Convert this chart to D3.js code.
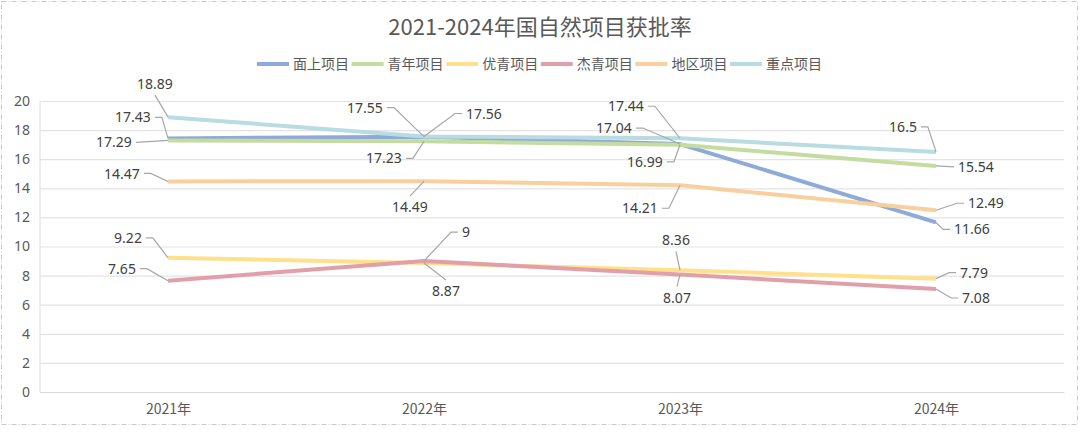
<!DOCTYPE html>
<html>
<head>
<meta charset="utf-8">
<script src="https://cdn.jsdelivr.net/npm/d3@7"></script>
<style>
    body { margin: 0; background: #fff; }
    svg { display: block; font-family: "Noto Sans CJK SC", "Noto Sans", sans-serif; }
</style>
</head>
<body>
<div id="chart"></div>
<script>
/** Chart data. */
const YEARS = ["2021年", "2022年", "2023年", "2024年"];
const SERIES_NAMES = ["面上项目", "青年项目", "优青项目", "杰青项目", "地区项目", "重点项目"];
const MIANSHANG = [17.43, 17.55, 17.04, 11.66];
const QINGNIAN = [17.29, 17.23, 16.99, 15.54];
const YOUQING = [9.22, 8.87, 8.36, 7.79];
const JIEQING = [7.65, 9, 8.07, 7.08];
const DIQU = [14.47, 14.49, 14.21, 12.49];
const ZHONGDIAN = [18.89, 17.56, 17.44, 16.5];
const Y_TICKS = [0, 2, 4, 6, 8, 10, 12, 14, 16, 18, 20];

/** Layout. */
const WIDTH = 1080;
const HEIGHT = 436;
const MARGIN = {left: 40, right: 16, top: 101, bottom: 44};
const COLORS = ["#8eaad9", "#c5dca0", "#ffe08b", "#e19faa", "#f9cf9e", "#b8dce1"];

// Label offsets (dx, dy) from each point, per series and year.
const LABEL_OFFSETS = [
    [[-35, -21], [-59, -29], [-66, -16], [36, 7]],
    [[-54, 2], [-40, 17], [-35, 17], [40, 1]],
    [[-40, -20], [22, 28], [-4, -30], [38, -6]],
    [[-46, -12], [42, -29], [-3, 23], [40, 9]],
    [[-46, -8], [-14, 26], [-40, 23], [50, -7]],
    [[-13, -33], [60, -23], [-54, -32], [-33, -25]],
];

const seriesValues = [MIANSHANG, QINGNIAN, YOUQING, JIEQING, DIQU, ZHONGDIAN];
const series = SERIES_NAMES.map((name, i) => ({
    name,
    color: COLORS[i],
    values: seriesValues[i].map((v, j) => ({year: YEARS[j], value: v, offset: LABEL_OFFSETS[i][j]})),
}));

const x = d3.scalePoint()
    .domain(YEARS)
    .range([MARGIN.left, WIDTH - MARGIN.right])
    .padding(0.5);
const y = d3.scaleLinear()
    .domain([0, 20])
    .range([HEIGHT - MARGIN.bottom, MARGIN.top]);

const svg = d3.select("#chart").append("svg")
    .attr("width", WIDTH)
    .attr("height", HEIGHT);

// Dashed frame.
svg.append("rect")
    .attr("x", 1.5).attr("y", 1.5)
    .attr("width", 1076).attr("height", 423)
    .attr("fill", "#fff")
    .attr("stroke", "#c8c8c8")
    .attr("stroke-dasharray", "5,2,1,2");

// Title.
svg.append("text")
    .attr("x", WIDTH / 2)
    .attr("y", 35)
    .attr("text-anchor", "middle")
    .attr("fill", "#595959")
    .attr("font-size", 22)
    .text("2021-2024年国自然项目获批率");

// Legend.
const legend = svg.append("g")
    .selectAll("g")
    .data(series)
    .join("g")
    .attr("transform", (d, i) => `translate(${257 + i * 94.6}, 64)`);
legend.append("line")
    .attr("x1", 0).attr("x2", 32)
    .attr("stroke", d => d.color)
    .attr("stroke-width", 4);
legend.append("text")
    .attr("x", 36)
    .attr("dy", "0.36em")
    .attr("font-size", 14)
    .attr("fill", "#595959")
    .text(d => d.name);

// Grid and axes.
const yAxis = d3.axisLeft(y)
    .tickValues(Y_TICKS)
    .tickSize(-(WIDTH - MARGIN.left - MARGIN.right))
    .tickPadding(10);
svg.append("g")
    .attr("transform", `translate(${MARGIN.left},0)`)
    .call(yAxis)
    .call(g => g.select(".domain").remove())
    .call(g => g.selectAll("line").attr("stroke", "#e3e3e3").attr("stroke-width", 1.2))
    .call(g => g.selectAll("text").attr("fill", "#595959").attr("font-size", 14)
        .attr("font-family", "'Noto Sans', sans-serif"));

svg.append("line")
    .attr("x1", MARGIN.left).attr("x2", MARGIN.left)
    .attr("y1", y(0)).attr("y2", y(20))
    .attr("stroke", "#e3e3e3").attr("stroke-width", 1.2);

const xAxis = d3.axisBottom(x).tickSize(0).tickPadding(12);
svg.append("g")
    .attr("transform", `translate(0,${y(0)})`)
    .call(xAxis)
    .call(g => g.select(".domain").attr("stroke", "#d9d9d9"))
    .call(g => g.selectAll("text").attr("fill", "#595959").attr("font-size", 14)
        .attr("font-family", "'Noto Sans CJK SC', sans-serif"));

// Lines.
const line = d3.line()
    .x(d => x(d.year))
    .y(d => y(d.value));
svg.append("g")
    .selectAll("path")
    .data(series)
    .join("path")
    .attr("fill", "none")
    .attr("stroke", d => d.color)
    .attr("stroke-width", 4)
    .attr("stroke-linejoin", "round")
    .attr("d", d => line(d.values));

// Data labels with leader lines.
const points = series.flatMap(s => s.values);
const labelLayer = svg.append("g");
points.forEach(p => {
    const px = x(p.year);
    const py = y(p.value);
    const [dx, dy] = p.offset;
    const cx = px + dx;
    const cy = py + dy;
    const text = labelLayer.append("text")
        .attr("x", cx)
        .attr("y", cy)
        .attr("dy", "0.36em")
        .attr("text-anchor", "middle")
        .attr("font-size", 14)
        .attr("font-family", "'Noto Sans', sans-serif")
        .attr("fill", "#404040")
        .text(p.value);
    const half = text.node().getComputedTextLength() / 2;

    let pts;
    if (Math.abs(dx) >= 25) {
        const side = dx < 0 ? 1 : -1;
        const start = cx + side * (half + 4);
        if (Math.abs(dy) < 4) {
            pts = [[start, cy], [px, py]];
        } else {
            pts = [[start, cy], [start + side * 7, cy], [px, py]];
        }
    } else {
        const edge = cy + (dy < 0 ? 11 : -11);
        pts = [[cx, edge], [px, py]];
    }
    labelLayer.append("path")
        .attr("fill", "none")
        .attr("stroke", "#a6a6a6")
        .attr("stroke-width", 1.2)
        .attr("d", d3.line()(pts));
});
</script>
</body>
</html>
